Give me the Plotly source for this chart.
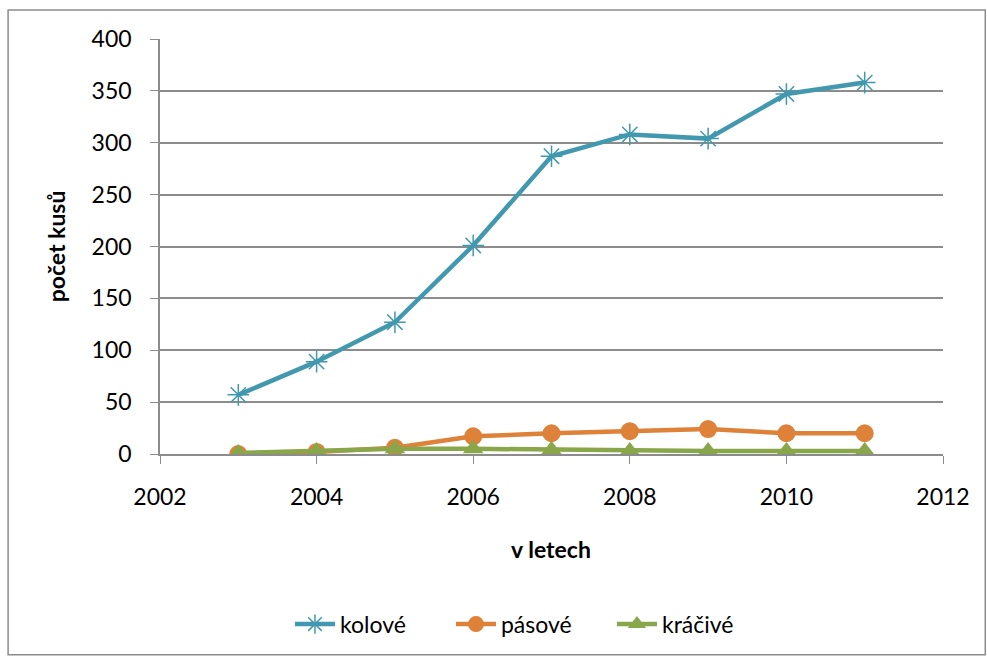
import plotly.graph_objects as go

# Roky a počty kusů podle typu podvozku
years = [2003, 2004, 2005, 2006, 2007, 2008, 2009, 2010, 2011]
kolove = [57, 89, 127, 201, 287, 308, 304, 347, 358]
pasove = [0, 2, 6, 17, 20, 22, 24, 20, 20]
kracive = [1, 3, 5, 5, 4, 3, 3, 3, 3]

x_ticks = [2002, 2004, 2006, 2008, 2010, 2012]
y_ticks = [0, 50, 100, 150, 200, 250, 300, 350, 400]

FONT = "Lato, 'Open Sans', sans-serif"
GRID = "#8c8c8c"
SIZE = 23

fig = go.Figure()
fig.add_trace(go.Scatter(
    x=years, y=kolove, name="kolové", mode="lines+markers",
    line=dict(color="#4198AF", width=4.5),
    marker=dict(symbol="asterisk-open", size=18, color="#4198AF",
                line=dict(color="#4198AF", width=1.5)),
))
fig.add_trace(go.Scatter(
    x=years, y=pasove, name="pásové", mode="lines+markers",
    line=dict(color="#DE8139", width=4.5),
    marker=dict(symbol="circle", size=18, color="#DE8139"),
))
fig.add_trace(go.Scatter(
    x=years, y=kracive, name="kráčivé", mode="lines+markers",
    line=dict(color="#8AA64A", width=4.5),
    marker=dict(symbol="triangle-up", size=18, color="#8AA64A"),
))

fig.update_layout(
    width=987, height=657,
    margin=dict(l=160, r=44, t=39, b=203),
    paper_bgcolor="white", plot_bgcolor="white",
    font=dict(family=FONT, size=SIZE, color="#000000"),
    showlegend=True,
    legend=dict(orientation="h", x=0.166, xanchor="left",
                y=-0.41, yanchor="middle",
                font=dict(family=FONT, size=SIZE),
                itemwidth=40, tracegroupgap=0,
                entrywidth=106, entrywidthmode="pixels"),
    xaxis=dict(range=[2002, 2012], tickvals=x_ticks, ticks="outside",
               ticklen=8, tickcolor=GRID, showline=True, linecolor=GRID,
               linewidth=1.5, showgrid=False, zeroline=False,
               ticklabelstandoff=14, tickfont=dict(size=SIZE)),
    yaxis=dict(range=[0, 400], tickvals=y_ticks, ticks="outside",
               ticklen=8, tickcolor=GRID, showline=True, linecolor=GRID,
               linewidth=1.5, showgrid=True, gridcolor=GRID, gridwidth=1.5,
               zeroline=False, ticklabelstandoff=14,
               tickfont=dict(size=SIZE)),
    annotations=[
        dict(text="<b>v letech</b>", xref="paper", yref="paper",
             x=0.499, y=-0.229, xanchor="center", yanchor="middle",
             showarrow=False, font=dict(size=SIZE)),
        dict(text="<b>počet kusů</b>", xref="paper", yref="paper",
             x=-0.133, y=0.5, xanchor="center", yanchor="middle",
             showarrow=False, textangle=-90, font=dict(size=SIZE)),
    ],
    shapes=[
        dict(type="rect", xref="paper", yref="paper",
             x0=-0.194, x1=1.054, y0=-0.484, y1=1.070,
             line=dict(color="#8c8c8c", width=1.5)),
    ],
)

fig.write_html("out.html")
